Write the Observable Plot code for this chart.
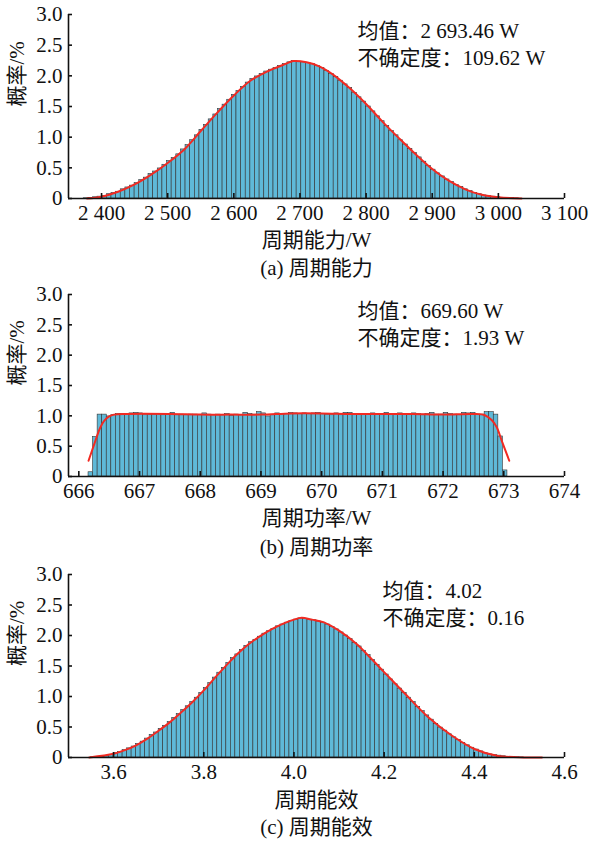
<!DOCTYPE html>
<html>
<head>
<meta charset="utf-8">
<script src="https://cdn.jsdelivr.net/npm/d3@7"></script>
<script src="https://cdn.jsdelivr.net/npm/@observablehq/plot@0.6"></script>
<style>
  body { margin: 0; background: #fff; }
  #chart svg { display: block; }
</style>
</head>
<body>
<div id="chart"></div>
<script>
// ---------- Panel (a) 周期能力 ----------
const binStartA = 2373, binWidthA = 7;
const barsA = [0.004,0.01,0.02,0.03,0.04,0.07,0.09,0.11,0.15,0.18,
  0.21,0.25,0.30,0.34,0.40,0.44,0.49,0.55,0.61,0.66,
  0.72,0.80,0.87,0.95,1.03,1.12,1.20,1.29,1.37,1.46,
  1.53,1.61,1.69,1.75,1.82,1.89,1.95,1.99,2.03,2.07,
  2.10,2.13,2.16,2.19,2.22,2.24,2.23,2.22,2.21,2.19,
  2.16,2.13,2.08,2.03,1.98,1.92,1.86,1.80,1.72,1.65,
  1.58,1.50,1.42,1.34,1.26,1.18,1.10,1.03,0.95,0.88,
  0.81,0.74,0.67,0.60,0.53,0.47,0.41,0.36,0.31,0.27,
  0.22,0.19,0.15,0.12,0.09,0.07,0.05,0.04,0.03,0.02,
  0.01,0.01,0.005,0.003];
const curveAx = [2378,2400,2425,2450,2475,2500,2525,2550,2575,2600,2625,2650,2675,2690,2710,2730,2750,2775,2800,2825,2850,2875,2900,2925,2950,2975,3000,3035];
const curveAy = [0.00,0.03,0.11,0.23,0.39,0.58,0.80,1.10,1.40,1.68,1.92,2.07,2.18,2.24,2.22,2.15,2.02,1.80,1.54,1.25,0.98,0.72,0.48,0.29,0.15,0.06,0.02,0.00];
const ticksA = [2400,2500,2600,2700,2800,2900,3000,3100];

// ---------- Panel (b) 周期功率 ----------
const binStartB = 666.16, binWidthB = 0.075;
const barsB = [0.07,0.65,1.02,1.02,0.99,1.01,1.03,1.03,1.02,1.04,
  1.05,1.04,1.01,1.02,1.02,1.03,1.01,1.02,1.05,1.01,
  1.02,1.01,1.02,1.02,1.01,1.04,1.02,1.01,1.02,1.01,
  1.03,1.00,1.02,1.01,1.05,1.03,1.02,1.06,1.04,0.99,
  1.01,1.04,1.03,1.03,1.05,1.04,1.03,1.04,1.03,1.04,
  1.05,1.03,1.02,1.01,1.04,1.01,1.05,1.05,1.02,1.03,
  1.03,1.02,1.04,1.02,1.03,1.05,1.03,1.02,1.04,1.03,
  1.02,1.04,1.03,1.02,1.03,1.05,1.02,1.02,1.05,1.03,
  1.02,1.01,1.05,1.04,1.05,1.02,1.02,1.06,1.06,1.02,
  0.66,0.10];
const curveBx = [666.16,666.25,666.35,666.42,666.5,666.58,666.8,667.5,668,668.5,669,669.5,670,670.5,671,671.5,672,672.5,672.69,672.8,672.88,672.97,673.09];
const curveBy = [0.26,0.52,0.80,0.92,0.99,1.02,1.03,1.03,1.02,1.02,1.02,1.04,1.04,1.03,1.03,1.03,1.02,1.03,1.01,0.93,0.82,0.58,0.26];
const ticksB = [666,667,668,669,670,671,672,673,674];

// ---------- Panel (c) 周期能效 ----------
const binStartC = 3.55, binWidthC = 0.01;
const barsC = [0.003,0.006,0.01,0.02,0.04,0.07,0.09,0.12,0.15,0.18,
  0.22,0.26,0.31,0.37,0.41,0.47,0.52,0.58,0.65,0.71,
  0.78,0.84,0.91,0.98,1.06,1.14,1.22,1.31,1.39,1.47,
  1.55,1.63,1.69,1.76,1.83,1.89,1.93,1.98,2.03,2.07,
  2.11,2.15,2.18,2.21,2.24,2.26,2.28,2.27,2.26,2.25,
  2.23,2.21,2.18,2.14,2.10,2.05,2.00,1.94,1.88,1.82,
  1.75,1.68,1.60,1.52,1.44,1.36,1.28,1.20,1.13,1.06,
  0.98,0.91,0.83,0.76,0.69,0.62,0.55,0.49,0.44,0.38,
  0.33,0.29,0.24,0.20,0.16,0.13,0.10,0.07,0.05,0.04,
  0.03,0.02,0.01,0.007,0.004,0.002];
const curveCx = [3.546,3.60,3.625,3.65,3.675,3.70,3.725,3.75,3.775,3.80,3.825,3.85,3.875,3.90,3.925,3.95,3.975,4.00,4.017,4.04,4.065,4.10,4.139,4.17,4.20,4.247,4.298,4.35,4.40,4.45,4.51,4.55];
const curveCy = [0.00,0.06,0.12,0.20,0.31,0.44,0.58,0.74,0.91,1.10,1.31,1.51,1.70,1.86,1.99,2.10,2.19,2.26,2.29,2.26,2.22,2.08,1.86,1.63,1.40,1.04,0.66,0.36,0.14,0.03,0.00,0.00];
const ticksC = [3.6,3.8,4.0,4.2,4.4,4.6];

const yTicks = [0,0.5,1.0,1.5,2.0,2.5,3.0];

const FONT = "'Liberation Serif', 'Noto Sans CJK SC', serif";
const BAR_FILL = "#5fb9d8";
const BAR_STROKE = "#333333";
const RED = "#f22a22";

function panel({xDomain, bars, binStart, binWidth, cx, cy, xTicks, xFmt, xLabel, caption, note, noteDx, height, marginBottom, labelDy, capDy}) {
  const rects = bars.map((v, i) => ({x1: binStart + i * binWidth, x2: binStart + (i + 1) * binWidth, y: v}));
  const curve = cx.map((x, i) => ({x, y: cy[i]}));
  const t = {fill: "#111", fontSize: 21};
  return Plot.plot({
    width: 590,
    height,
    marginLeft: 68,
    marginRight: 26,
    marginTop: 14,
    marginBottom,
    style: {fontSize: "21px", color: "#111", background: "#fff", overflow: "visible"},
    x: {domain: xDomain, axis: null},
    y: {domain: [0, 3], axis: null},
    marks: [
      Plot.rectY(rects, {x1: "x1", x2: "x2", y: "y", fill: BAR_FILL, stroke: BAR_STROKE, strokeWidth: 0.6}),
      Plot.line(curve, {x: "x", y: "y", stroke: RED, strokeWidth: 2, curve: "catmull-rom"}),
      Plot.ruleY([0], {stroke: "#111", strokeWidth: 1.6}),
      Plot.ruleX([xDomain[0]], {y1: 0, y2: 3, stroke: "#111", strokeWidth: 1.6}),
      Plot.axisX({ticks: xTicks, tickFormat: xFmt, tickSize: -5, tickPadding: 12, strokeWidth: 1.6, label: null, ...t}),
      Plot.axisY({ticks: yTicks, tickFormat: d => d === 0 ? "0" : d.toFixed(1), tickSize: -4, tickPadding: 10, strokeWidth: 1.6, label: null, ...t}),
      Plot.text([xLabel], {frameAnchor: "bottom", dy: labelDy, text: d => d, lineAnchor: "middle", ...t}),
      Plot.text([caption], {frameAnchor: "bottom", dy: capDy, text: d => d, lineAnchor: "middle", ...t}),
      Plot.text(["概率/%"], {frameAnchor: "left", dx: -51, rotate: -90, text: d => d, lineAnchor: "middle", ...t}),
      Plot.text([note], {frameAnchor: "top-left", dx: noteDx, dy: 4, text: d => d, textAnchor: "start", lineAnchor: "top", lineHeight: 1.3, ...t})
    ]
  });
}

const spaceFmt = d => String(d).replace(/\B(?=(\d{3})+$)/, " ");

const chart = document.getElementById("chart");
chart.append(panel({
  xDomain: [2350, 3100], bars: barsA, binStart: binStartA, binWidth: binWidthA,
  cx: curveAx, cy: curveAy, xTicks: ticksA, xFmt: spaceFmt,
  xLabel: "周期能力/W", caption: "(a) 周期能力",
  note: "均值：2 693.46 W\n不确定度：109.62 W", noteDx: 289,
  height: 280, marginBottom: 82, labelDy: 42, capDy: 70
}));
chart.append(panel({
  xDomain: [665.83, 674], bars: barsB, binStart: binStartB, binWidth: binWidthB,
  cx: curveBx, cy: curveBy, xTicks: ticksB, xFmt: d => String(d),
  xLabel: "周期功率/W", caption: "(b) 周期功率",
  note: "均值：669.60 W\n不确定度：1.93 W", noteDx: 289,
  height: 280, marginBottom: 84, labelDy: 42, capDy: 71
}));
chart.append(panel({
  xDomain: [3.5, 4.6], bars: barsC, binStart: binStartC, binWidth: binWidthC,
  cx: curveCx, cy: curveCy, xTicks: ticksC, xFmt: d => d.toFixed(1),
  xLabel: "周期能效", caption: "(c) 周期能效",
  note: "均值：4.02\n不确定度：0.16", noteDx: 314,
  height: 283, marginBottom: 86, labelDy: 43, capDy: 70
}));

// force the serif font on every text element (inline style wins over Plot's defaults)
chart.querySelectorAll("svg").forEach(s => { s.style.fontFamily = FONT; s.setAttribute("font-family", FONT); });
chart.querySelectorAll("g, text, tspan").forEach(el => {
  if (el.hasAttribute("font-family")) el.setAttribute("font-family", FONT);
  if (el.tagName === "text" || el.tagName === "tspan") el.style.fontFamily = FONT;
});
</script>
</body>
</html>
